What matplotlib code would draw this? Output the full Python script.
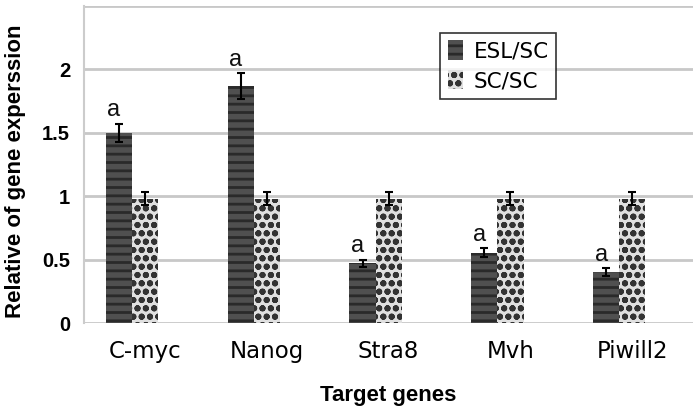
import matplotlib
matplotlib.use("Agg")
import matplotlib.pyplot as plt
import numpy as np
from matplotlib.patches import Patch

genes = ["C-myc", "Nanog", "Stra8", "Mvh", "Piwill2"]
esl_sc = [1.50, 1.87, 0.47, 0.555, 0.40]
esl_err = [0.07, 0.10, 0.03, 0.035, 0.03]
sc_sc = [0.98, 0.98, 0.98, 0.98, 0.98]
sc_err = [0.05, 0.05, 0.05, 0.05, 0.05]
sig_labels = ["a", "a", "a", "a", "a"]
yticks = [0, 0.5, 1, 1.5, 2]
ytick_labels = ["0", "0.5", "1", "1.5", "2"]

plt.rcParams["hatch.linewidth"] = 2.0

fig = plt.figure(figsize=(6.99, 4.13), dpi=100)
ax = fig.add_axes([0.1202, 0.2179, 0.8712, 0.7676])

x = np.arange(len(genes))
w = 0.215
ax.bar(x - w / 2, esl_sc, width=w, color="#505050", edgecolor="#2a2a2a",
       hatch="--", linewidth=0, zorder=3)
ax.bar(x + w / 2, sc_sc, width=w, color="#e0e0e0", edgecolor="#333333",
       hatch="oo", linewidth=0, zorder=3)
ax.errorbar(x - w / 2, esl_sc, yerr=esl_err, fmt="none", ecolor="black",
            elinewidth=1.5, capsize=3, capthick=1.5, zorder=4)
ax.errorbar(x + w / 2, sc_sc, yerr=sc_err, fmt="none", ecolor="black",
            elinewidth=1.5, capsize=3, capthick=1.5, zorder=4)

for xi, v, e, s in zip(x, esl_sc, esl_err, sig_labels):
    ax.text(xi - w / 2 - 0.04, v + e + 0.02, s, ha="center", va="bottom",
            fontsize=17, family="Liberation Sans", color="#111111", zorder=5)

ax.set_xlim(-0.394, 4.606)
ax.set_ylim(0, 2.5)
ax.set_yticks(yticks)
ax.set_yticklabels(ytick_labels, fontsize=14.5, fontweight="bold",
                   family="Liberation Sans")
ax.set_yticks([2.5], minor=True)
ax.set_xticks(x + 0.106)
ax.set_xticklabels(genes, fontsize=16.5, family="DejaVu Sans")
ax.tick_params(axis="both", which="both", length=0)
ax.tick_params(axis="y", pad=10)
ax.tick_params(axis="x", pad=12)

ax.grid(axis="y", which="both", color="#c8c8c8", linewidth=2, zorder=0)
for side in ["top", "right", "bottom"]:
    ax.spines[side].set_visible(False)
ax.spines["left"].set_color("#cccccc")
ax.spines["left"].set_linewidth(1.5)

ax.set_xlabel("Target genes", fontsize=16, fontweight="bold",
              family="Liberation Sans", labelpad=16)
fig.text(0.022, 0.585, "Relative of gene experssion", rotation=90,
         ha="center", va="center", fontsize=16, fontweight="bold",
         family="Liberation Sans")

handles = [Patch(facecolor="#505050", edgecolor="#2a2a2a", hatch="--", linewidth=0),
           Patch(facecolor="#e0e0e0", edgecolor="#333333", hatch="oo", linewidth=0)]
leg = ax.legend(handles, ["ESL/SC", "SC/SC"], loc="upper left",
                bbox_to_anchor=(0.585, 0.915), borderaxespad=0,
                prop={"family": "DejaVu Sans", "size": 15.5},
                frameon=True, fancybox=False, handlelength=0.7,
                handleheight=1.0, handletextpad=0.5, borderpad=0.35,
                labelspacing=0.4)
leg.get_frame().set_edgecolor("black")
leg.get_frame().set_linewidth(1.2)

fig.savefig("out.png", dpi=100)
